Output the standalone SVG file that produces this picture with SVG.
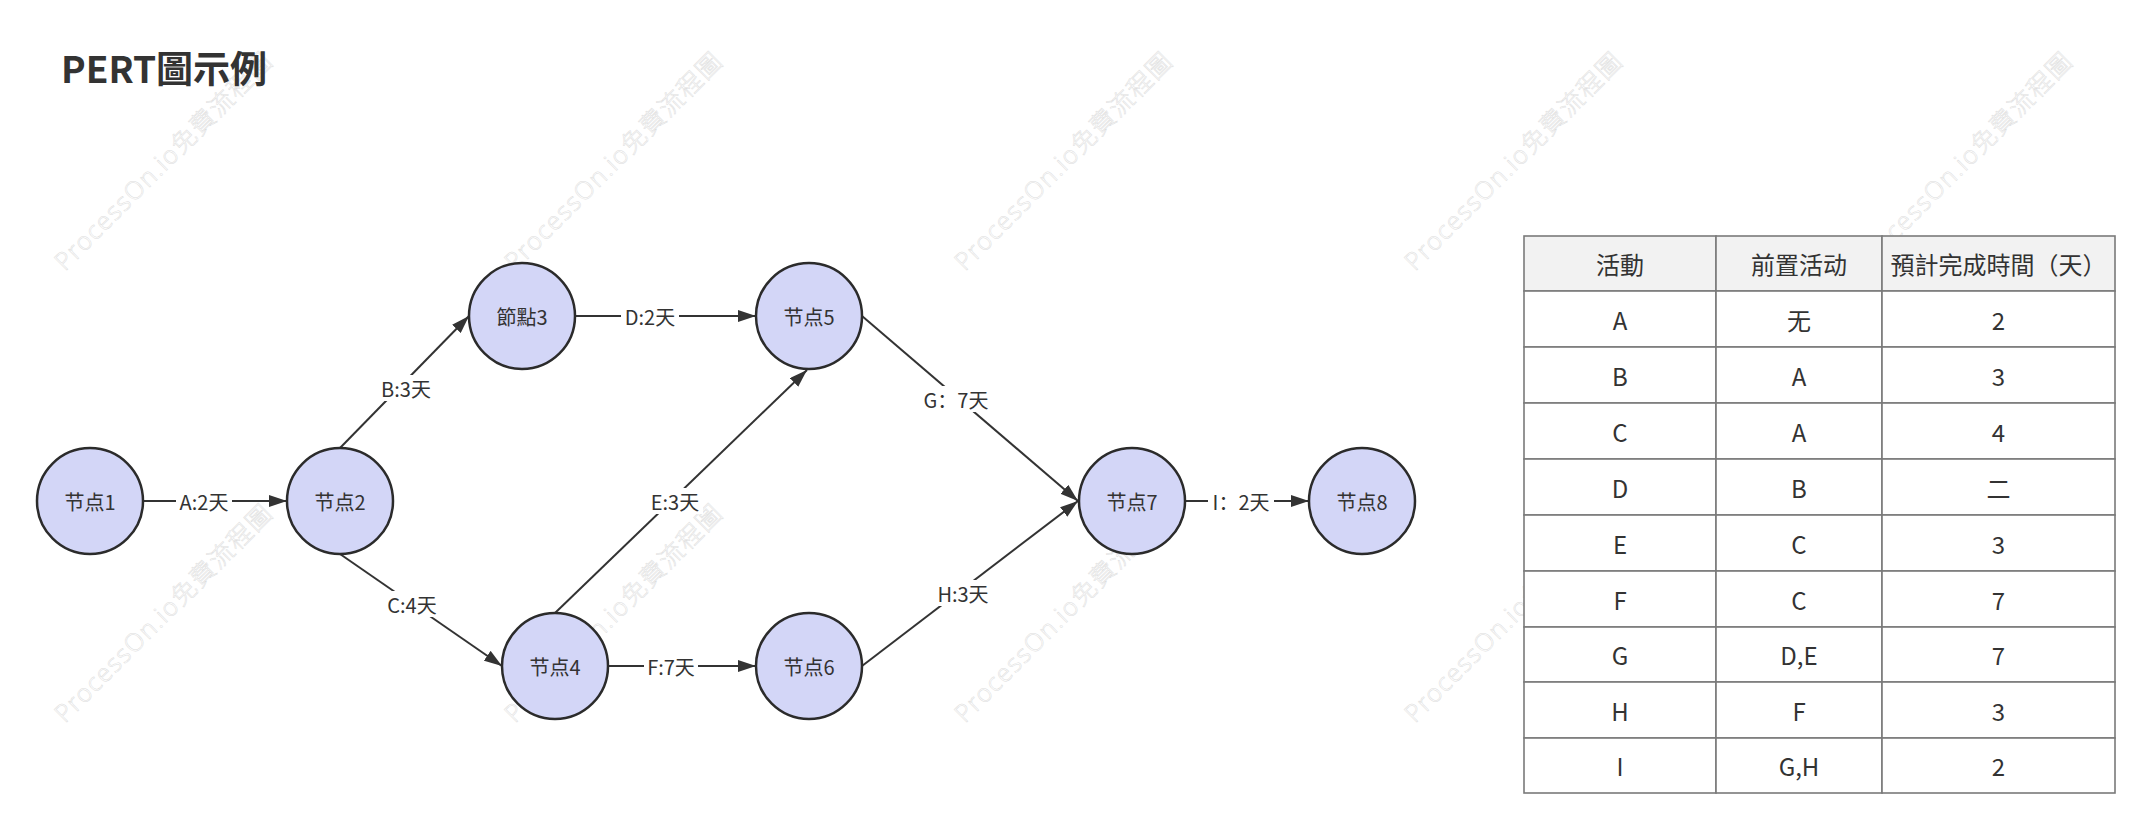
<svg xmlns="http://www.w3.org/2000/svg" width="2153" height="830" viewBox="0 0 2153 830">
  <defs>
    <marker id="arrow" viewBox="0 0 18 12" refX="18" refY="6" markerWidth="18" markerHeight="12" markerUnits="userSpaceOnUse" orient="auto">
      <path d="M0,0 L18,6 L0,12 Z" fill="#333333"/>
    </marker>
    <style>
      .wm { font-family: "Noto Sans", "Noto Sans CJK TC", sans-serif; font-size: 25px; font-weight: 300; fill: none; stroke: #dcdcdc; stroke-width: 0.5; }
      .title { font-family: "Noto Sans CJK TC", "Noto Sans CJK SC", sans-serif; font-size: 37px; font-weight: bold; fill: #333333; }
      .node circle { fill: #d3d6f7; stroke: #2b2b2b; stroke-width: 2.5; }
      .node text, .lbl text { font-family: "Noto Sans CJK SC", "Noto Sans CJK TC", sans-serif; font-size: 20px; fill: #333333; text-anchor: middle; dominant-baseline: central; }
      .edge { stroke: #333333; stroke-width: 2; fill: none; marker-end: url(#arrow); }
      .lbl rect { fill: #ffffff; }
      .tbl rect { fill: #ffffff; stroke: #7a7a7a; stroke-width: 1.6; }
      .tbl rect.hd { fill: #f2f2f2; }
      .tbl text { font-family: "Noto Sans CJK TC", "Noto Sans CJK SC", sans-serif; font-size: 24px; fill: #333333; text-anchor: middle; dominant-baseline: central; }
    </style>
  </defs>
  <rect x="0" y="0" width="2153" height="830" fill="#ffffff"/>

  <g id="watermarks">
    <text class="wm" transform="translate(65,272) rotate(-45)" textLength="295" lengthAdjust="spacing">ProcessOn.io免費流程圖</text>
    <text class="wm" transform="translate(515,272) rotate(-45)" textLength="295" lengthAdjust="spacing">ProcessOn.io免費流程圖</text>
    <text class="wm" transform="translate(965,272) rotate(-45)" textLength="295" lengthAdjust="spacing">ProcessOn.io免費流程圖</text>
    <text class="wm" transform="translate(1415,272) rotate(-45)" textLength="295" lengthAdjust="spacing">ProcessOn.io免費流程圖</text>
    <text class="wm" transform="translate(1865,272) rotate(-45)" textLength="295" lengthAdjust="spacing">ProcessOn.io免費流程圖</text>
    <text class="wm" transform="translate(65,724) rotate(-45)" textLength="295" lengthAdjust="spacing">ProcessOn.io免費流程圖</text>
    <text class="wm" transform="translate(515,724) rotate(-45)" textLength="295" lengthAdjust="spacing">ProcessOn.io免費流程圖</text>
    <text class="wm" transform="translate(965,724) rotate(-45)" textLength="295" lengthAdjust="spacing">ProcessOn.io免費流程圖</text>
    <text class="wm" transform="translate(1415,724) rotate(-45)" textLength="295" lengthAdjust="spacing">ProcessOn.io免費流程圖</text>
    <text class="wm" transform="translate(1865,724) rotate(-45)" textLength="295" lengthAdjust="spacing">ProcessOn.io免費流程圖</text>
  </g>

  <text id="title" class="title" x="61" y="83">PERT圖示例</text>

  <g id="connectors">
    <path id="eA" class="edge" d="M143,501 L287,501"/>
    <path id="eB" class="edge" d="M340,448 L469,316"/>
    <path id="eC" class="edge" d="M340,554 L502,666"/>
    <path id="eD" class="edge" d="M575,316 L756,316"/>
    <path id="eE" class="edge" d="M555,613 L807,370"/>
    <path id="eF" class="edge" d="M608,666 L756,666"/>
    <path id="eG" class="edge" d="M862,316 L1078,501"/>
    <path id="eH" class="edge" d="M862,666 L1078,501"/>
    <path id="eI" class="edge" d="M1185,501 L1309,501"/>
    <g class="lbl">
      <rect x="176" y="489" width="56" height="24"/><text x="204" y="501">A:2天</text>
      <rect x="378" y="375" width="56" height="26"/><text x="406" y="388">B:3天</text>
      <rect x="384" y="591" width="56" height="26"/><text x="412" y="604">C:4天</text>
      <rect x="621" y="304" width="58" height="24"/><text x="650" y="316">D:2天</text>
      <rect x="647" y="488" width="56" height="26"/><text x="675" y="501">E:3天</text>
      <rect x="644" y="654" width="54" height="24"/><text x="671" y="666">F:7天</text>
      <rect x="918" y="386" width="76" height="26"/><text x="956" y="399">G：7天</text>
      <rect x="934" y="580" width="58" height="26"/><text x="963" y="593">H:3天</text>
      <rect x="1208" y="489" width="66" height="24"/><text x="1241" y="501">I：2天</text>
    </g>
  </g>

  <g id="n1" class="node"><circle cx="90" cy="501" r="53"/><text x="90" y="501">节点1</text></g>
  <g id="n2" class="node"><circle cx="340" cy="501" r="53"/><text x="340" y="501">节点2</text></g>
  <g id="n3" class="node"><circle cx="522" cy="316" r="53"/><text x="522" y="316">節點3</text></g>
  <g id="n4" class="node"><circle cx="555" cy="666" r="53"/><text x="555" y="666">节点4</text></g>
  <g id="n5" class="node"><circle cx="809" cy="316" r="53"/><text x="809" y="316">节点5</text></g>
  <g id="n6" class="node"><circle cx="809" cy="666" r="53"/><text x="809" y="666">节点6</text></g>
  <g id="n7" class="node"><circle cx="1132" cy="501" r="53"/><text x="1132" y="501">节点7</text></g>
  <g id="n8" class="node"><circle cx="1362" cy="501" r="53"/><text x="1362" y="501">节点8</text></g>

  <g id="table" class="tbl">
    <rect class="hd" x="1524" y="236" width="192" height="55"/>
    <rect class="hd" x="1716" y="236" width="166" height="55"/>
    <rect class="hd" x="1882" y="236" width="233" height="55"/>
    <text x="1620" y="263.5">活動</text><text x="1799" y="263.5">前置活动</text><text x="1998.5" y="263.5">預計完成時間（天）</text>

    <rect x="1524" y="291" width="192" height="56"/><rect x="1716" y="291" width="166" height="56"/><rect x="1882" y="291" width="233" height="56"/>
    <text x="1620" y="319">A</text><text x="1799" y="319">无</text><text x="1998.5" y="319">2</text>

    <rect x="1524" y="347" width="192" height="56"/><rect x="1716" y="347" width="166" height="56"/><rect x="1882" y="347" width="233" height="56"/>
    <text x="1620" y="375">B</text><text x="1799" y="375">A</text><text x="1998.5" y="375">3</text>

    <rect x="1524" y="403" width="192" height="56"/><rect x="1716" y="403" width="166" height="56"/><rect x="1882" y="403" width="233" height="56"/>
    <text x="1620" y="431">C</text><text x="1799" y="431">A</text><text x="1998.5" y="431">4</text>

    <rect x="1524" y="459" width="192" height="56"/><rect x="1716" y="459" width="166" height="56"/><rect x="1882" y="459" width="233" height="56"/>
    <text x="1620" y="487">D</text><text x="1799" y="487">B</text><text x="1998.5" y="487">二</text>

    <rect x="1524" y="515" width="192" height="56"/><rect x="1716" y="515" width="166" height="56"/><rect x="1882" y="515" width="233" height="56"/>
    <text x="1620" y="543">E</text><text x="1799" y="543">C</text><text x="1998.5" y="543">3</text>

    <rect x="1524" y="571" width="192" height="56"/><rect x="1716" y="571" width="166" height="56"/><rect x="1882" y="571" width="233" height="56"/>
    <text x="1620" y="599">F</text><text x="1799" y="599">C</text><text x="1998.5" y="599">7</text>

    <rect x="1524" y="627" width="192" height="55"/><rect x="1716" y="627" width="166" height="55"/><rect x="1882" y="627" width="233" height="55"/>
    <text x="1620" y="654.5">G</text><text x="1799" y="654.5">D,E</text><text x="1998.5" y="654.5">7</text>

    <rect x="1524" y="682" width="192" height="56"/><rect x="1716" y="682" width="166" height="56"/><rect x="1882" y="682" width="233" height="56"/>
    <text x="1620" y="710">H</text><text x="1799" y="710">F</text><text x="1998.5" y="710">3</text>

    <rect x="1524" y="738" width="192" height="55"/><rect x="1716" y="738" width="166" height="55"/><rect x="1882" y="738" width="233" height="55"/>
    <text x="1620" y="765.5">I</text><text x="1799" y="765.5">G,H</text><text x="1998.5" y="765.5">2</text>
  </g>
</svg>
